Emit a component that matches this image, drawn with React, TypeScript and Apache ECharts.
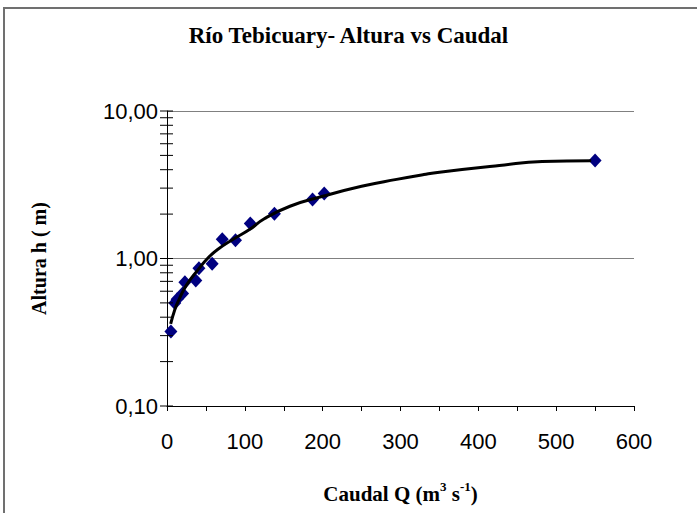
import React, { useEffect, useRef } from "react";
import * as echarts from "echarts";

const chartTitle = "Río Tebicuary- Altura vs Caudal";
const xTicks = [0, 100, 200, 300, 400, 500, 600];
const yMajorTicks = [0.1, 1, 10];
const yMinorTicks = [0.2, 0.3, 0.4, 0.5, 0.6, 0.7, 0.8, 0.9, 2, 3, 4, 5, 6, 7, 8, 9];

// measured points: discharge Q (m3/s) and height h (m)
const caudalQ = [5, 10, 13, 20, 23, 37, 41, 58, 71, 88, 107, 138, 187, 202, 550];
const alturaH = [0.32, 0.5, 0.53, 0.58, 0.69, 0.71, 0.86, 0.92, 1.35, 1.33, 1.73, 2.01, 2.51, 2.76, 4.62];

// fitted trend curve
const trendQ = [4.7, 10, 15, 25, 40, 52, 65, 85, 106, 125, 158, 200, 250, 295, 330, 350, 427, 482, 545];
const trendH = [0.36, 0.45, 0.52, 0.66, 0.84, 1.0, 1.15, 1.35, 1.57, 1.86, 2.26, 2.64, 3.09, 3.44, 3.71, 3.85, 4.27, 4.55, 4.6];

export default function App() {
  const ref = useRef<HTMLDivElement>(null);
  useEffect(() => {
    if (!ref.current) return;
    const chart = echarts.init(ref.current, null, { renderer: "svg" });
    const serif = "'Liberation Serif', 'Times New Roman', serif";
    const sans = "'Liberation Sans', Arial, sans-serif";
    const allYTicks = [...yMajorTicks, ...yMinorTicks];
    chart.setOption({
      animation: false,
      backgroundColor: "#ffffff",
      title: {
        text: chartTitle,
        left: "center",
        top: 19,
        textStyle: { fontFamily: serif, fontWeight: "bold", fontSize: 23, color: "#000" },
      },
      graphic: [
        {
          type: "rect",
          shape: { x: 4, y: 8, width: 800, height: 600 },
          style: { fill: "none", stroke: "#707070", lineWidth: 2 },
          silent: true,
        },
      ],
      grid: { left: 167, right: 63, top: 111, bottom: 107, containLabel: false },
      xAxis: {
        type: "value",
        min: xTicks[0],
        max: xTicks[xTicks.length - 1],
        interval: 100,
        axisLine: { show: true, lineStyle: { color: "#000", width: 1 } },
        axisTick: { show: true, length: 5, inside: false, lineStyle: { color: "#000" } },
        minorTick: { show: true, splitNumber: 2, length: 5, lineStyle: { color: "#000" } },
        splitLine: { show: false },
        axisLabel: { fontFamily: sans, fontSize: 22, color: "#000", margin: 24 },
        name: "{b|Caudal Q (m}{s|3}{b| s}{s|-1}{b|)}",
        nameLocation: "middle",
        nameGap: 74,
        nameTextStyle: {
          rich: {
            b: { fontFamily: serif, fontWeight: "bold", fontSize: 21, color: "#000", verticalAlign: "bottom", lineHeight: 24 },
            s: { fontFamily: serif, fontWeight: "bold", fontSize: 13, color: "#000", verticalAlign: "top", lineHeight: 24, padding: [0, 0, 10, 0] },
          },
        },
      },
      yAxis: {
        type: "log",
        logBase: 10,
        min: 0.1,
        max: 10,
        axisLine: { show: true, lineStyle: { color: "#000", width: 1 } },
        axisTick: { show: false },
        splitLine: { show: true, lineStyle: { color: "#808080", width: 1 } },
        axisLabel: {
          fontFamily: sans,
          fontSize: 22,
          color: "#000",
          margin: 9,
          formatter: (v: number) => v.toFixed(2).replace(".", ","),
        },
        name: "Altura h ( m)",
        nameLocation: "middle",
        nameGap: 118,
        nameRotate: 90,
        nameTextStyle: { fontFamily: serif, fontWeight: "bold", fontSize: 20, color: "#000" },
      },
      series: [
        {
          type: "custom",
          silent: true,
          clip: false,
          data: allYTicks.map((v) => [0, v]),
          renderItem: (params: any, api: any) => {
            const p = api.coord([0, api.value(1)]);
            return {
              type: "line",
              shape: { x1: p[0] - 7, y1: p[1], x2: p[0] + 6, y2: p[1] },
              style: { stroke: "#000", lineWidth: 1 },
            };
          },
          z: 5,
        },
        {
          type: "line",
          data: trendQ.map((q, i) => [q, trendH[i]]),
          smooth: true,
          showSymbol: false,
          symbol: "none",
          lineStyle: { color: "#000", width: 3 },
          z: 3,
        },
        {
          type: "scatter",
          data: caudalQ.map((q, i) => [q, alturaH[i]]),
          symbol: "diamond",
          symbolSize: [13, 14],
          itemStyle: { color: "#000080", opacity: 1 },
          z: 2,
        },
      ],
    });
    return () => chart.dispose();
  }, []);
  return <div ref={ref} style={{ position: "fixed", left: 0, top: 0, width: 697, height: 513 }} />;
}
